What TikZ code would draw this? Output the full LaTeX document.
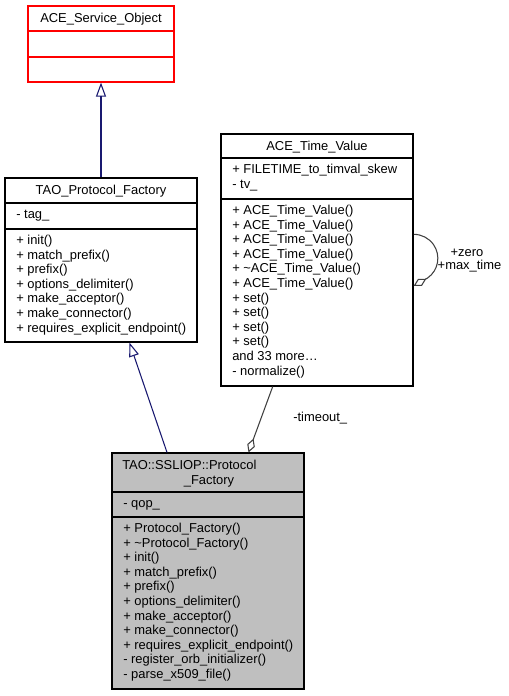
\documentclass[tikz,border=0pt]{standalone}
\usepackage{fontspec}
\setmainfont{Liberation Sans}
\usetikzlibrary{fit,arrows.meta}
\definecolor{edgeblue}{HTML}{191970}
\definecolor{edgegray}{HTML}{404040}
\definecolor{boxgray}{HTML}{BFBFBF}
\tikzset{
    box/.style = {draw, inner sep = 0pt, line width = 0.9pt},
    member/.style = {anchor = base west, inner sep = 0pt, font = \fontsize{9.7}{11.6}\selectfont},
    title/.style = {anchor = base, inner sep = 0pt, font = \fontsize{9.7}{11.6}\selectfont},
    inherit/.style = {draw = edgeblue, line width = 0.8pt, -{Triangle[open, length = 10.5pt, width = 7.5pt]}},
    aggregate/.style = {draw = edgegray, line width = 0.8pt, {Diamond[open, length = 11pt, width = 6pt]}-}
}
\newcommand\drawMembers[4]{
    \foreach \txt [count = \i from 0] in {#4}
    {
        \node[member] (#1\i) at (#2+11, #3+15.5+\i*14.6) {\txt};
    }
}

\begin{document}
\begin{tikzpicture}[x = 0.75pt, y = -0.75pt]
        \useasboundingbox (0,0) rectangle (508,696);

        % ACE_Service_Object
        \node[box, draw = red, fit = {(28,6) (174,82)}] (svc) {};
        \draw[red, line width = 0.9pt] (28,31) -- (174,31);
        \draw[red, line width = 0.9pt] (28,57) -- (174,57);
        \node[title] (svctitle) at (101,22) {ACE\_Service\_Object};

        % TAO_Protocol_Factory
        \node[box, fit = {(5,178) (197,342)}] (tpf) {};
        \draw[line width = 0.9pt] (5,203) -- (197,203);
        \draw[line width = 0.9pt] (5,229) -- (197,229);
        \node[title] (tpftitle) at (101,194) {TAO\_Protocol\_Factory};
        \drawMembers{tpfat}{5}{203}{- tag\_}
        \drawMembers{tpfop}{5}{229}{+ init(), + match\_prefix(), + prefix(), + options\_delimiter(),
            + make\_acceptor(), + make\_connector(), + requires\_explicit\_endpoint()}

        % ACE_Time_Value
        \node[box, fit = {(221,134) (413,386)}] (tv) {};
        \draw[line width = 0.9pt] (221,158) -- (413,158);
        \draw[line width = 0.9pt] (221,199) -- (413,199);
        \node[title] (tvtitle) at (317,150) {ACE\_Time\_Value};
        \drawMembers{tvat}{221}{158}{+ FILETIME\_to\_timval\_skew, - tv\_}
        \drawMembers{tvop}{221}{199}{+ ACE\_Time\_Value(), + ACE\_Time\_Value(), + ACE\_Time\_Value(),
            + ACE\_Time\_Value(), + \textasciitilde ACE\_Time\_Value(), + ACE\_Time\_Value(),
            + set(), + set(), + set(), + set(), and 33 more\textellipsis, - normalize()}

        % TAO::SSLIOP::Protocol_Factory
        \node[box, fill = boxgray, fit = {(112,453) (304,689)}] (ssl) {};
        \draw[line width = 0.9pt] (112,492) -- (304,492);
        \draw[line width = 0.9pt] (112,517) -- (304,517);
        \node[member] (ssltitle) at (122,469.5) {TAO::SSLIOP::Protocol};
        \node[title] (ssltitleb) at (209,484) {\_Factory};
        \drawMembers{sslat}{112}{492}{- qop\_}
        \drawMembers{sslop}{112}{517}{+ Protocol\_Factory(), + \textasciitilde Protocol\_Factory(), + init(),
            + match\_prefix(), + prefix(), + options\_delimiter(), + make\_acceptor(), + make\_connector(),
            + requires\_explicit\_endpoint(), - register\_orb\_initializer(), - parse\_x509\_file()}

        % edges
        \draw[inherit] (tpf.north) -- (svc.south);
        \draw[inherit] ([shift = {(-41,0)}]ssl.north) -- ([shift = {(28.5,0)}]tpf.south);
        \draw[aggregate] ([shift = {(40.5,0)}]ssl.north) -- ([shift = {(-44.3,0)}]tv.south);
        \node[member] (timeout) at (293,421) {-timeout\_};
        \draw[aggregate] ([shift = {(0,26)}]tv.east) -- ++(14,-8) arc[start angle = 55, end angle = -90, radius = 24];
        \node[title] (zero) at (467,256) {+zero};
        \node[title] (maxtime) at (469.5,269.5) {+max\_time};
    \end{tikzpicture}
\end{document}
